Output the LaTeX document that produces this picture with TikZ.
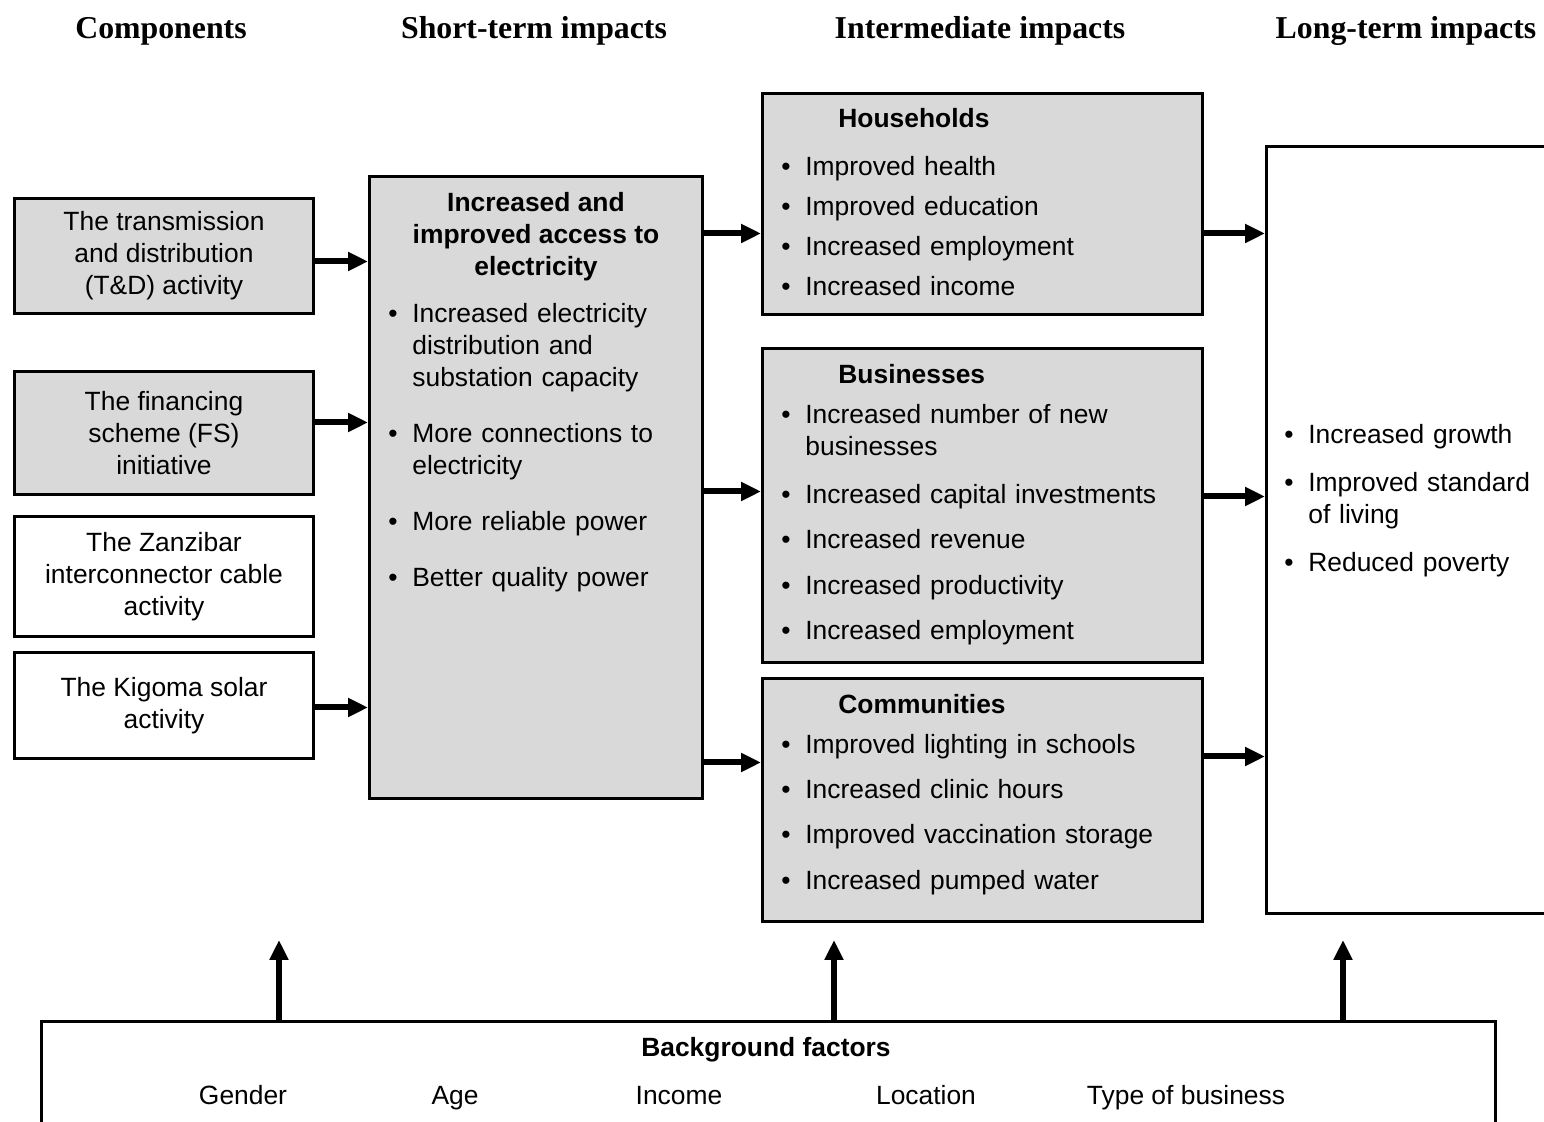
\documentclass[tikz,border=0pt]{standalone}
\usepackage{fontspec}
\setmainfont{Liberation Sans}
\newfontfamily\headfont{Liberation Serif}
\usetikzlibrary{arrows.meta}
\definecolor{boxgray}{RGB}{217,217,217}

% bullet item, optional gap above
\newcommand{\itm}[2][0pt]{\par\vspace{#1}\hangindent=12pt\hangafter=1\noindent\strut\makebox[12pt][l]{\textbullet}#2}
% first bullet item of a list without title
\newcommand{\fitm}[1]{\hangindent=12pt\hangafter=1\noindent\strut\makebox[12pt][l]{\textbullet}#1}
% bold group title
\newcommand{\ttl}[1]{\noindent\strut\hspace*{28.5pt}\textbf{#1}}

\begin{document}
\fontsize{13.2}{16}\selectfont
\hyphenpenalty=10000
\exhyphenpenalty=10000
\begin{tikzpicture}[x=0.5pt, y=-0.5pt,
  comp/.style={draw, line width=1.5pt, minimum width=149.5pt, align=center, anchor=north west, inner sep=2pt},
  gbox/.style={draw, line width=1.5pt, fill=boxgray, anchor=north west, inner sep=0pt},
  wbox/.style={draw, line width=1.5pt, fill=white, anchor=north west, inner sep=0pt},
  lst/.style={anchor=north west, inner sep=0pt, text width=#1, align=left},
  head/.style={anchor=base, font=\headfont\bfseries\fontsize{15.9}{19}\selectfont},
  arr/.style={line width=3pt, -{Triangle[length=10pt,width=9pt]}}]
\useasboundingbox (0,0) rectangle (1544,1122);
\clip (0,0) rectangle (1544,1122);

% Column headings
\node[head] (hcomp) at (161,38.5) {Components};
\node[head] (hshort) at (534,38.5) {Short-term impacts};
\node[head] (hinter) at (980,38.5) {Intermediate impacts};
\node[head] (hlong) at (1406,38.5) {Long-term impacts};

% Components
\node[comp, fill=boxgray, minimum height=57.5pt] (tdbox) at (13,197) {The transmission\\and distribution\\(T\&D) activity};
\node[comp, fill=boxgray, minimum height=61.5pt] (fsbox) at (13,370) {The financing\\scheme (FS)\\initiative};
\node[comp, minimum height=60pt] (zanbox) at (13,515) {The Zanzibar\\interconnector cable\\activity};
\node[comp, minimum height=53pt] (kigbox) at (13,651) {The Kigoma solar\\activity};

% Short-term box
\node[gbox, minimum width=166.5pt, minimum height=311pt] (accbox) at (368,175) {};
\node[anchor=north, align=center, inner sep=0pt, font=\bfseries] (acctitle) at ([yshift=-7pt]accbox.north) {\strut Increased and\\improved access to\\electricity};
\node[lst=147pt] (acclist) at (388,300) {%
  \fitm{Increased electricity distribution and substation capacity}
  \itm[12pt]{More connections to electricity}
  \itm[12pt]{More reliable power}
  \itm[12pt]{Better quality power}};

% Intermediate boxes
\node[gbox, minimum width=220pt, minimum height=110.5pt] (hhbox) at (761,92) {};
\node[lst=202pt] (hhlist) at (781,105) {%
  \ttl{Households}
  \itm[8pt]{Improved health}
  \itm[4pt]{Improved education}
  \itm[4pt]{Increased employment}
  \itm[4pt]{Increased income}};

\node[gbox, minimum width=220pt, minimum height=157pt] (busbox) at (761,347) {};
\node[lst=202pt] (buslist) at (781,361) {%
  \ttl{Businesses}
  \itm[4pt]{Increased number of new businesses}
  \itm[8pt]{Increased capital investments}
  \itm[6.5pt]{Increased revenue}
  \itm[7pt]{Increased productivity}
  \itm[6.5pt]{Increased employment}};

\node[gbox, minimum width=220pt, minimum height=121.5pt] (combox) at (761,677) {};
\node[lst=202pt] (comlist) at (781,691) {%
  \ttl{Communities}
  \itm[4pt]{Improved lighting in schools}
  \itm[6.5pt]{Increased clinic hours}
  \itm[6.5pt]{Improved vaccination storage}
  \itm[7pt]{Increased pumped water}};

% Long-term box
\node[wbox, minimum width=147.5pt, minimum height=383.5pt] (longbox) at (1265,145) {};
\node[lst=128pt] (longlist) at (1284,421) {%
  \fitm{Increased growth}
  \itm[8pt]{Improved standard of living}
  \itm[8pt]{Reduced poverty}};

% Background factors
\node[wbox, minimum width=727pt, minimum height=65pt] (bgbox) at (40,1020) {};
\node[anchor=base, font=\bfseries] (bgtitle) at (766,1056.5) {Background factors};
\node[anchor=base] (fgender) at (243,1104.5) {Gender};
\node[anchor=base] (fage) at (455,1104.5) {Age};
\node[anchor=base] (fincome) at (679,1104.5) {Income};
\node[anchor=base] (floc) at (926,1104.5) {Location};
\node[anchor=base] (ftype) at (1186,1104.5) {Type of business};

% Arrows into short-term box
\coordinate (tdout) at ([yshift=-2.75pt]tdbox.east);
\coordinate (fsout) at ([yshift=5.25pt]fsbox.east);
\coordinate (kigout) at ([yshift=-1pt]kigbox.east);
\draw[arr] (tdout) -- (tdout -| accbox.west);
\draw[arr] (fsout) -- (fsout -| accbox.west);
\draw[arr] (kigout) -- (kigout -| accbox.west);

% Arrows into intermediate boxes
\coordinate (hhin) at ([yshift=-14.75pt]hhbox.west);
\coordinate (busin) at ([yshift=7pt]busbox.west);
\coordinate (comin) at ([yshift=18.75pt]combox.west);
\draw[arr] (hhin -| accbox.east) -- (hhin);
\draw[arr] (busin -| accbox.east) -- (busin);
\draw[arr] (comin -| accbox.east) -- (comin);

% Arrows into long-term box
\coordinate (busout) at ([yshift=4.5pt]busbox.east);
\coordinate (comout) at ([yshift=21.75pt]combox.east);
\draw[arr] (hhin -| hhbox.east) -- (hhin -| longbox.west);
\draw[arr] (busout) -- (busout -| longbox.west);
\draw[arr] (comout) -- (comout -| longbox.west);

% Arrows up from background factors
\coordinate (up1) at (279,940);
\coordinate (up2) at (834,940);
\coordinate (up3) at (1343,940);
\draw[arr] (up1 |- bgbox.north) -- (up1);
\draw[arr] (up2 |- bgbox.north) -- (up2);
\draw[arr] (up3 |- bgbox.north) -- (up3);
\end{tikzpicture}
\end{document}
